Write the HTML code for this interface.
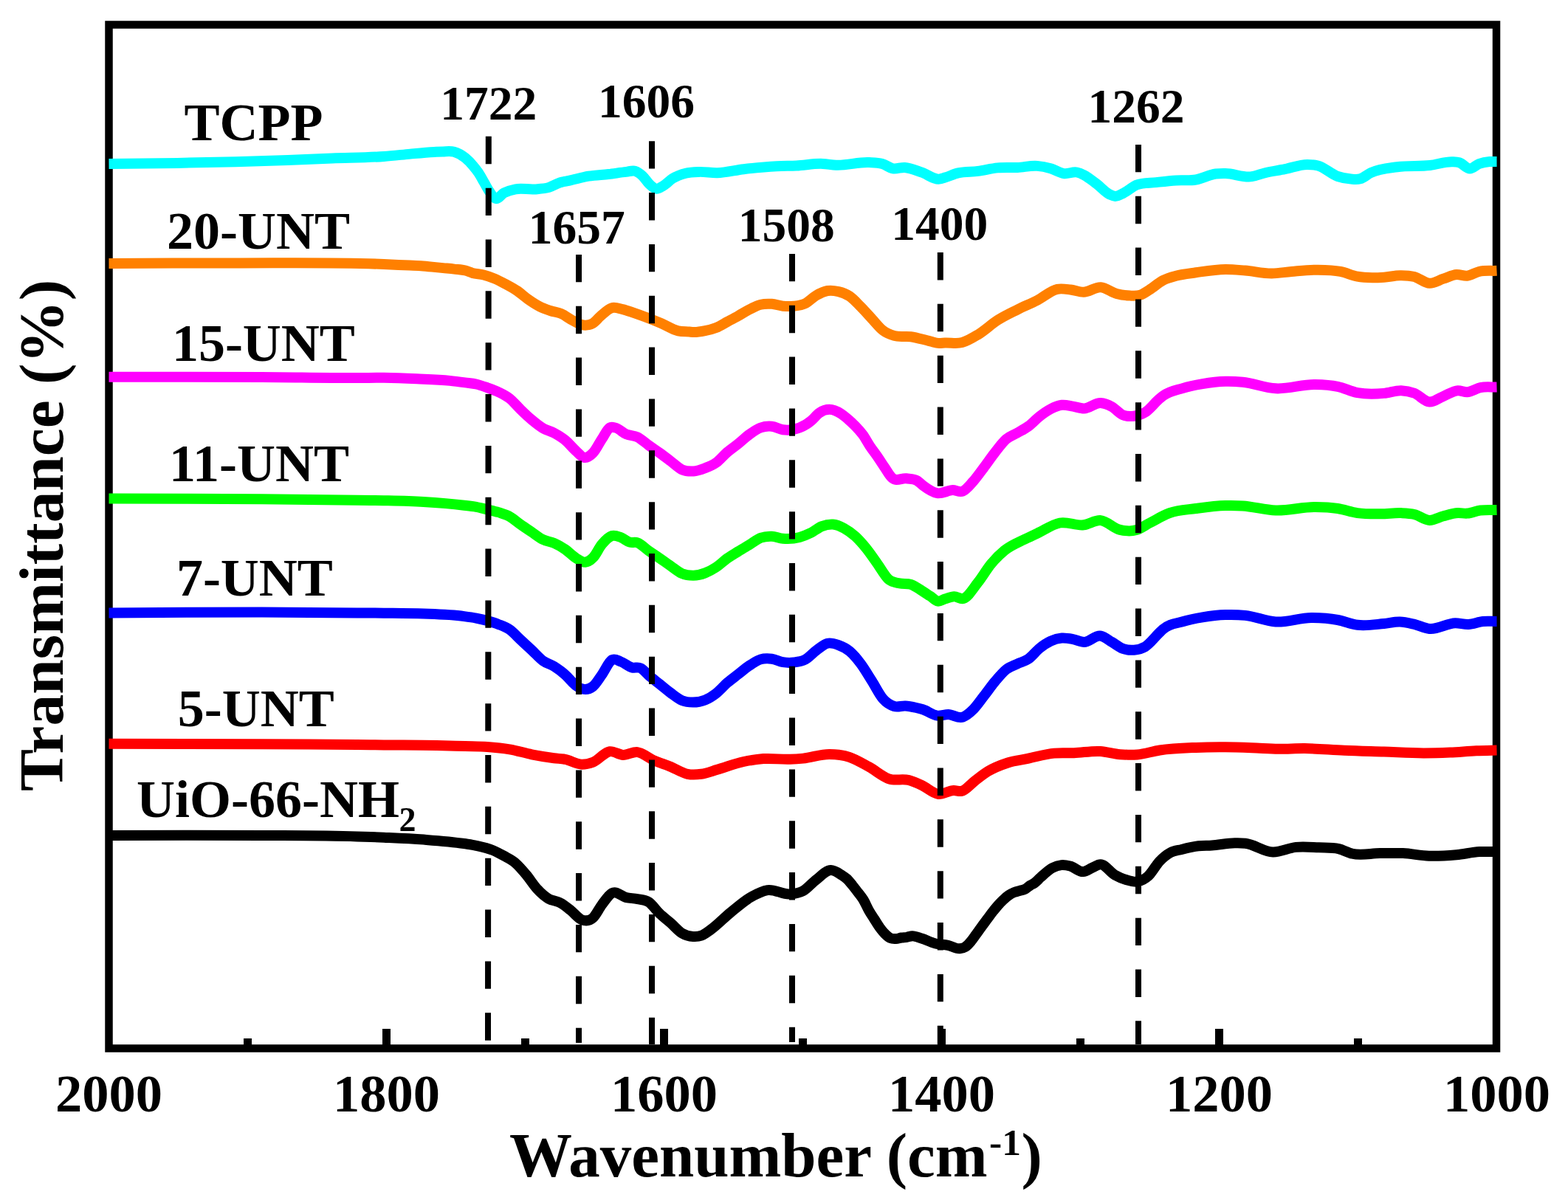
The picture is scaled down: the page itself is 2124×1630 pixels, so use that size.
<!DOCTYPE html>
<html><head><meta charset="utf-8"><style>
html,body{margin:0;padding:0;background:#fff;overflow:hidden;width:2124px;height:1630px;}
svg{display:block;}
text{font-family:"Liberation Serif","Times New Roman",serif;font-weight:bold;fill:#000;}
</style></head><body>
<svg width="2124" height="1630" viewBox="0 0 2124 1630">
<rect x="0" y="0" width="2124" height="1630" fill="#fff"/>
<!-- frame -->
<rect x="147.5" y="33.5" width="1879.5" height="1387" fill="none" stroke="#000" stroke-width="10.5"/>
<!-- ticks -->
<g fill="#000">
<rect x="518" y="1394" width="11" height="22"/>
<rect x="894" y="1394" width="11" height="22"/>
<rect x="1270" y="1394" width="11" height="22"/>
<rect x="1646" y="1394" width="11" height="22"/>
<rect x="330" y="1407" width="11" height="9"/>
<rect x="706" y="1407" width="11" height="9"/>
<rect x="1082" y="1407" width="11" height="9"/>
<rect x="1458" y="1407" width="11" height="9"/>
<rect x="1834" y="1407" width="11" height="9"/>
</g>
<path d="M147.5 221.9C178.3 221.6 209.2 221.4 240.0 220.9C266.3 220.5 292.6 219.9 318.9 219.2C342.6 218.6 366.3 217.9 390.0 217.0C410.0 216.3 430.0 215.3 450.0 214.5C473.3 213.6 496.7 213.7 520.0 212.0C531.9 211.1 543.9 209.7 555.8 208.6C566.5 207.6 577.3 206.5 588.0 205.9C592.0 205.7 596.0 205.4 600.0 205.4C605.0 205.3 610.1 204.4 615.1 205.8C620.1 207.2 625.1 209.8 630.1 213.8C633.6 216.7 637.2 220.2 640.7 224.4C643.2 227.3 645.7 230.4 648.2 234.2C650.7 238.0 653.2 242.7 655.7 247.0C658.2 251.3 660.8 256.4 663.3 260.0C665.8 263.6 668.3 267.6 670.8 268.8C674.8 270.8 678.9 263.3 682.9 261.3C688.1 258.8 693.2 257.3 698.4 256.3C706.9 254.6 715.5 257.0 724.0 256.4C730.6 255.9 737.1 255.9 743.7 253.9C748.8 252.4 753.8 248.8 758.9 247.3C762.8 246.1 766.6 245.7 770.5 244.9C779.4 243.0 788.4 240.2 797.3 238.7C806.3 237.2 815.2 237.0 824.2 236.0C832.3 235.1 840.3 233.7 848.4 232.9C852.4 232.5 856.5 230.5 860.5 231.8C863.9 232.9 867.3 235.4 870.7 238.7C873.7 241.5 876.6 246.6 879.6 249.4C882.6 252.3 885.6 255.2 888.6 255.7C891.9 256.3 895.2 253.6 898.5 251.7C902.7 249.3 906.8 244.5 911.0 241.9C917.0 238.2 922.9 236.2 928.9 234.7C934.9 233.2 940.8 233.1 946.8 232.9C955.1 232.6 963.3 234.4 971.6 234.2C983.5 233.9 995.5 230.6 1007.4 229.2C1022.3 227.5 1037.2 226.1 1052.1 225.3C1061.0 224.8 1070.0 224.9 1078.9 224.5C1090.8 223.9 1102.8 221.3 1114.7 221.9C1120.7 222.2 1126.6 223.5 1132.6 223.8C1147.5 224.6 1162.4 219.3 1177.3 220.1C1183.3 220.4 1189.2 220.3 1195.2 222.0C1200.0 223.4 1204.7 227.4 1209.5 228.3C1214.9 229.3 1220.2 226.6 1225.6 227.0C1233.4 227.5 1241.1 231.1 1248.9 233.7C1256.7 236.3 1264.4 243.4 1272.2 242.6C1274.8 242.3 1277.4 241.3 1280.0 240.5C1286.0 238.8 1291.9 235.8 1297.9 234.4C1306.8 232.2 1315.8 233.1 1324.7 231.9C1333.7 230.7 1342.6 228.2 1351.6 227.4C1360.5 226.6 1369.5 227.3 1378.4 226.9C1387.3 226.5 1396.3 224.1 1405.2 224.9C1411.2 225.4 1417.1 226.6 1423.1 228.3C1429.1 230.0 1435.0 234.2 1441.0 235.1C1447.0 236.0 1452.9 232.2 1458.9 233.5C1461.9 234.2 1464.9 235.4 1467.9 236.9C1473.9 239.8 1479.8 244.9 1485.8 249.4C1491.7 253.9 1497.7 261.0 1503.6 263.7C1506.0 264.8 1508.4 265.8 1510.8 265.9C1514.4 266.0 1517.9 263.6 1521.5 261.9C1527.5 259.1 1533.4 253.3 1539.4 250.7C1548.4 246.9 1557.3 248.2 1566.3 247.1C1575.2 246.1 1584.2 245.0 1593.1 244.4C1602.1 243.8 1611.0 245.0 1620.0 243.5C1628.9 242.0 1637.9 236.6 1646.8 235.5C1651.2 235.0 1655.6 235.1 1660.0 235.1C1671.9 235.2 1683.9 241.0 1695.8 239.2C1701.8 238.3 1707.7 235.6 1713.7 234.2C1722.6 232.0 1731.6 231.0 1740.5 229.2C1750.6 227.2 1760.8 222.8 1770.9 222.9C1775.7 222.9 1780.4 223.3 1785.2 224.5C1794.2 226.8 1803.1 236.0 1812.1 239.0C1818.1 241.0 1824.0 242.2 1830.0 242.6C1834.2 242.9 1838.3 243.5 1842.5 242.3C1847.3 241.0 1852.0 236.4 1856.8 234.2C1868.7 228.6 1880.7 227.9 1892.6 226.2C1907.5 224.0 1922.4 225.7 1937.3 224.0C1947.4 222.8 1957.6 218.7 1967.7 219.2C1970.7 219.3 1973.7 219.3 1976.7 220.2C1981.5 221.6 1986.2 228.5 1991.0 228.5C1995.2 228.5 1999.3 223.6 2003.5 222.0C2008.3 220.2 2013.0 219.4 2017.8 219.0C2021.0 218.7 2024.3 219.0 2027.5 219.0" fill="none" stroke="#00ffff" stroke-width="14" stroke-linejoin="round"/>
<path d="M147.5 356.9C204.7 356.7 261.8 356.3 319.0 356.4C386.0 356.5 453.0 355.2 520.0 358.0C526.7 358.3 533.3 358.6 540.0 358.9C545.0 359.1 550.1 359.3 555.1 359.5C560.1 359.7 565.1 359.9 570.1 360.2C575.1 360.6 580.2 361.1 585.2 361.6C590.2 362.1 595.3 362.6 600.3 363.1C605.3 363.6 610.3 364.0 615.3 364.6C620.3 365.2 625.4 365.3 630.4 366.6C633.6 367.4 636.8 369.0 640.0 369.9C645.0 371.3 650.1 371.2 655.1 372.5C660.1 373.8 665.1 375.5 670.1 377.6C675.1 379.7 680.2 382.5 685.2 385.2C690.2 387.9 695.3 390.5 700.3 393.9C705.3 397.3 710.3 402.0 715.3 405.5C720.3 409.0 725.4 412.4 730.4 415.0C735.4 417.6 740.5 419.3 745.5 421.0C750.5 422.7 755.5 422.9 760.5 425.1C765.5 427.3 770.6 431.5 775.6 434.1C780.6 436.7 785.7 440.2 790.7 440.6C794.7 440.9 798.7 440.6 802.7 438.3C806.2 436.2 809.8 431.5 813.3 428.5C818.3 424.2 823.3 418.9 828.3 417.3C833.3 415.7 838.4 418.0 843.4 419.1C848.4 420.2 853.5 422.2 858.5 423.9C863.5 425.6 868.5 427.4 873.5 429.3C881.0 432.1 888.6 435.1 896.1 438.3C903.6 441.5 911.2 446.7 918.7 448.4C923.7 449.5 928.8 449.2 933.8 449.6C935.9 449.8 937.9 450.1 940.0 450.1C945.0 450.2 950.1 449.2 955.1 448.2C960.1 447.2 965.1 446.0 970.1 444.0C975.1 442.0 980.2 438.7 985.2 436.0C990.2 433.3 995.3 430.6 1000.3 427.8C1005.3 425.0 1010.3 421.8 1015.3 419.3C1020.3 416.8 1025.4 413.9 1030.4 412.7C1035.4 411.4 1040.5 411.5 1045.5 411.8C1050.5 412.1 1055.5 414.2 1060.5 414.7C1065.5 415.2 1070.6 415.3 1075.6 414.7C1080.6 414.1 1085.7 413.6 1090.7 411.2C1095.7 408.8 1100.7 403.2 1105.7 400.3C1110.7 397.4 1115.8 394.9 1120.8 394.0C1125.8 393.1 1130.9 393.9 1135.9 395.1C1140.9 396.3 1145.9 398.0 1150.9 401.4C1155.9 404.8 1161.0 410.6 1166.0 415.7C1171.0 420.8 1176.1 426.6 1181.1 432.0C1186.1 437.3 1191.1 444.0 1196.1 447.8C1201.1 451.6 1206.2 453.4 1211.2 454.9C1218.7 457.2 1226.3 455.1 1233.8 456.2C1242.5 457.4 1251.3 460.5 1260.0 462.4C1264.1 463.3 1268.1 464.8 1272.2 465.0C1274.8 465.1 1277.4 464.6 1280.0 464.5C1287.8 464.1 1295.5 466.2 1303.3 464.1C1310.4 462.2 1317.6 457.7 1324.7 453.4C1333.7 448.0 1342.6 439.4 1351.6 433.7C1360.5 428.0 1369.5 423.9 1378.4 419.4C1387.3 414.9 1396.3 411.5 1405.2 406.9C1414.2 402.3 1423.1 393.6 1432.1 391.8C1438.1 390.6 1444.0 391.8 1450.0 392.5C1456.0 393.2 1461.9 395.9 1467.9 395.8C1475.6 395.7 1483.4 388.7 1491.1 389.3C1498.3 389.8 1505.4 396.0 1512.6 397.9C1518.6 399.5 1524.5 400.4 1530.5 400.6C1535.3 400.8 1540.0 401.3 1544.8 399.7C1549.0 398.3 1553.1 395.1 1557.3 392.5C1563.3 388.8 1569.2 383.1 1575.2 380.0C1581.2 376.9 1587.1 375.4 1593.1 373.8C1602.1 371.3 1611.0 370.6 1620.0 369.3C1633.3 367.4 1646.7 365.1 1660.0 365.0C1668.9 364.9 1677.9 365.9 1686.8 366.6C1698.7 367.6 1710.7 370.6 1722.6 370.5C1731.6 370.4 1740.5 368.7 1749.5 368.0C1761.4 367.0 1773.3 365.6 1785.2 365.7C1795.4 365.8 1805.5 365.9 1815.7 367.9C1823.4 369.4 1831.2 373.2 1838.9 374.7C1850.8 377.0 1862.8 376.4 1874.7 375.7C1881.9 375.3 1889.0 373.3 1896.2 373.2C1902.8 373.1 1909.3 373.3 1915.9 375.0C1922.7 376.8 1929.6 383.6 1936.4 383.8C1942.7 384.0 1948.9 379.7 1955.2 377.7C1961.2 375.8 1967.1 372.4 1973.1 372.0C1977.9 371.7 1982.6 374.3 1987.4 373.8C1992.8 373.2 1998.1 369.3 2003.5 368.0C2011.5 366.1 2019.5 367.2 2027.5 366.8" fill="none" stroke="#ff8000" stroke-width="14" stroke-linejoin="round"/>
<path d="M147.5 510.7C216.6 510.8 285.6 510.5 354.7 510.9C397.7 511.1 440.6 512.1 483.6 512.0C495.7 512.0 507.9 511.7 520.0 511.8C534.9 512.0 549.8 512.6 564.7 513.3C579.6 514.0 594.6 514.4 609.5 515.9C616.3 516.6 623.2 517.5 630.0 518.4C635.0 519.1 640.1 519.3 645.1 520.5C650.1 521.6 655.1 523.5 660.1 525.3C665.1 527.1 670.2 528.8 675.2 531.2C680.2 533.6 685.3 535.9 690.3 539.9C695.3 543.9 700.3 550.2 705.3 555.0C710.3 559.9 715.4 564.7 720.4 568.9C725.4 573.1 730.5 577.2 735.5 580.2C740.5 583.1 745.5 583.9 750.5 586.6C755.5 589.3 760.6 592.2 765.6 596.4C770.6 600.5 775.7 607.1 780.7 611.5C784.2 614.6 787.7 619.1 791.2 619.8C795.2 620.6 799.3 617.9 803.3 613.7C807.3 609.5 811.3 600.9 815.3 594.9C818.8 589.6 822.4 581.5 825.9 579.4C828.4 577.9 830.9 579.0 833.4 579.5C838.4 580.5 843.5 586.3 848.5 588.4C853.5 590.5 858.5 589.7 863.5 592.2C868.5 594.7 873.6 599.6 878.6 603.2C883.6 606.8 888.7 610.1 893.7 613.7C898.7 617.3 903.7 621.2 908.7 625.0C913.7 628.8 918.8 634.0 923.8 636.3C929.0 638.6 934.2 638.8 939.5 638.5C944.7 638.1 949.9 636.2 955.1 634.2C960.1 632.3 965.1 630.5 970.1 626.9C975.1 623.3 980.2 616.9 985.2 612.6C990.2 608.3 995.3 605.0 1000.3 601.0C1005.3 597.0 1010.3 592.1 1015.3 588.5C1020.3 584.9 1025.4 581.3 1030.4 579.5C1035.4 577.7 1040.5 577.2 1045.5 577.7C1050.5 578.2 1055.5 581.5 1060.5 582.2C1068.0 583.2 1075.6 582.5 1083.1 579.5C1088.4 577.4 1093.8 574.3 1099.1 569.8C1102.7 566.9 1106.2 561.9 1109.8 559.4C1114.4 556.2 1119.0 554.8 1123.6 554.8C1128.8 554.8 1134.1 557.3 1139.3 560.6C1142.6 562.6 1145.8 565.5 1149.1 568.3C1152.4 571.1 1155.6 574.2 1158.9 577.6C1162.2 581.0 1165.4 584.4 1168.7 588.9C1172.0 593.4 1175.2 599.7 1178.5 604.6C1181.8 609.5 1185.0 613.6 1188.3 618.3C1191.6 623.0 1194.8 628.2 1198.1 633.0C1201.4 637.8 1204.6 643.8 1207.9 647.0C1214.5 653.4 1221.0 647.4 1227.6 648.3C1232.5 649.0 1237.4 648.2 1242.3 651.2C1244.9 652.8 1247.4 655.7 1250.0 657.6C1256.5 662.5 1263.1 667.0 1269.6 668.2C1276.6 669.5 1283.7 664.2 1290.7 664.1C1295.2 664.1 1299.7 667.5 1304.2 665.6C1308.7 663.7 1313.3 657.8 1317.8 652.8C1322.8 647.2 1327.9 639.9 1332.9 633.2C1337.9 626.6 1342.9 619.2 1347.9 612.9C1352.9 606.5 1358.0 599.5 1363.0 595.1C1368.0 590.7 1373.1 589.4 1378.1 586.5C1383.1 583.6 1388.1 581.2 1393.1 577.5C1398.1 573.8 1403.2 568.1 1408.2 564.2C1413.2 560.3 1418.3 556.7 1423.3 554.1C1428.3 551.5 1433.3 549.4 1438.3 548.8C1443.3 548.2 1448.4 549.8 1453.4 550.6C1458.4 551.4 1463.5 553.5 1468.5 553.4C1476.0 553.2 1483.6 545.4 1491.1 546.0C1496.1 546.4 1501.1 548.4 1506.1 551.1C1511.1 553.8 1516.2 560.3 1521.2 562.4C1526.2 564.5 1531.2 564.3 1536.2 563.7C1541.2 563.1 1546.3 561.7 1551.3 558.6C1557.5 554.8 1563.8 546.1 1570.0 540.8C1571.7 539.3 1573.5 537.8 1575.2 536.5C1584.2 529.7 1593.1 528.8 1602.1 526.1C1611.0 523.4 1620.0 521.7 1628.9 520.2C1639.3 518.4 1649.6 517.1 1660.0 516.8C1667.8 516.6 1675.5 517.0 1683.3 517.7C1698.2 519.1 1713.1 525.4 1728.0 526.3C1745.9 527.4 1763.8 520.6 1781.7 521.0C1791.8 521.2 1802.0 521.7 1812.1 523.8C1821.0 525.7 1830.0 530.5 1838.9 532.2C1850.8 534.4 1862.8 534.0 1874.7 532.9C1882.5 532.2 1890.2 528.9 1898.0 529.2C1904.0 529.5 1909.9 530.6 1915.9 532.8C1922.7 535.4 1929.6 544.2 1936.4 544.6C1942.7 545.0 1948.9 539.4 1955.2 536.9C1961.8 534.3 1968.3 529.6 1974.9 529.2C1979.1 529.0 1983.2 531.4 1987.4 531.2C1993.4 530.9 1999.3 526.3 2005.3 525.1C2012.7 523.6 2020.1 524.7 2027.5 524.5" fill="none" stroke="#ff00ff" stroke-width="14" stroke-linejoin="round"/>
<path d="M147.5 675.4C216.6 675.7 285.6 675.7 354.7 676.3C397.7 676.7 440.6 677.3 483.6 677.8C495.7 677.9 507.9 678.0 520.0 678.2C537.9 678.6 555.8 678.9 573.7 680.0C592.0 681.1 610.4 682.5 628.7 684.7C634.2 685.3 639.6 685.8 645.1 686.8C650.1 687.7 655.1 689.2 660.1 690.4C665.1 691.6 670.2 692.6 675.2 694.2C680.2 695.8 685.3 697.1 690.3 699.9C695.3 702.7 700.3 707.3 705.3 710.8C710.3 714.3 715.4 717.6 720.4 721.0C725.4 724.4 730.5 728.6 735.5 731.1C740.5 733.6 745.5 733.7 750.5 735.9C755.5 738.1 760.6 741.0 765.6 744.4C770.6 747.8 775.7 753.4 780.7 756.4C784.7 758.8 788.7 762.1 792.7 761.7C796.2 761.4 799.8 759.3 803.3 755.7C807.3 751.7 811.3 742.4 815.3 737.6C819.8 732.2 824.4 727.4 828.9 726.0C832.9 724.8 836.9 726.7 840.9 728.1C844.9 729.5 849.0 733.4 853.0 734.6C856.5 735.6 860.0 734.1 863.5 735.3C868.5 737.0 873.6 742.7 878.6 746.2C883.6 749.7 888.7 752.9 893.7 756.4C898.7 759.9 903.7 763.6 908.7 767.0C913.7 770.5 918.8 775.0 923.8 777.1C929.0 779.3 934.2 779.9 939.5 779.8C944.7 779.7 949.9 778.4 955.1 776.4C960.1 774.5 965.1 771.8 970.1 768.5C975.1 765.2 980.2 760.1 985.2 756.5C990.2 752.9 995.3 750.1 1000.3 747.0C1005.3 743.9 1010.3 741.0 1015.3 738.0C1020.3 735.0 1025.4 730.7 1030.4 728.8C1035.4 726.9 1040.5 726.5 1045.5 726.7C1050.5 726.9 1055.5 729.3 1060.5 729.7C1068.0 730.4 1075.6 729.9 1083.1 727.9C1088.1 726.6 1093.2 724.6 1098.2 722.1C1103.2 719.6 1108.3 715.0 1113.3 713.1C1118.3 711.2 1123.3 710.1 1128.3 710.5C1133.3 710.9 1138.4 713.1 1143.4 715.8C1148.4 718.5 1153.5 722.1 1158.5 726.7C1163.5 731.3 1168.5 737.0 1173.5 743.2C1178.5 749.4 1183.6 757.0 1188.6 764.0C1193.6 771.0 1198.7 780.7 1203.7 785.1C1208.7 789.5 1213.7 789.3 1218.7 790.4C1223.7 791.5 1228.8 790.2 1233.8 791.9C1238.8 793.6 1243.9 797.4 1248.9 800.5C1252.6 802.8 1256.3 805.3 1260.0 807.7C1263.5 810.0 1266.9 814.1 1270.4 814.6C1273.6 815.1 1276.8 812.4 1280.0 811.5C1284.2 810.3 1288.3 808.4 1292.5 808.3C1296.7 808.2 1300.8 812.2 1305.0 811.0C1311.6 809.0 1318.1 797.5 1324.7 789.2C1330.7 781.7 1336.6 771.2 1342.6 764.0C1348.6 756.8 1354.5 750.9 1360.5 746.0C1369.5 738.6 1378.4 735.5 1387.4 731.0C1393.3 728.0 1399.3 725.4 1405.2 722.6C1415.4 717.8 1425.5 710.5 1435.7 708.5C1446.4 706.4 1457.2 712.6 1467.9 711.3C1475.6 710.4 1483.4 704.3 1491.1 705.1C1499.5 705.9 1507.8 715.5 1516.2 717.6C1523.9 719.5 1531.7 720.3 1539.4 718.1C1545.4 716.4 1551.3 711.7 1557.3 708.6C1566.3 704.0 1575.2 698.4 1584.2 695.2C1596.1 690.9 1608.1 690.7 1620.0 689.0C1633.3 687.2 1646.7 685.3 1660.0 685.0C1667.8 684.8 1675.5 684.9 1683.3 685.4C1698.2 686.3 1713.1 691.0 1728.0 691.5C1745.9 692.2 1763.8 686.8 1781.7 687.0C1791.8 687.1 1802.0 687.5 1812.1 689.0C1821.0 690.4 1830.0 693.8 1838.9 695.1C1849.6 696.6 1860.4 696.4 1871.1 696.3C1880.1 696.2 1889.0 694.7 1898.0 695.1C1904.0 695.4 1909.9 695.6 1915.9 697.0C1922.7 698.6 1929.6 704.7 1936.4 704.9C1942.7 705.1 1948.9 700.9 1955.2 699.3C1961.8 697.6 1968.3 695.5 1974.9 695.1C1979.1 694.9 1983.2 695.9 1987.4 695.6C1993.4 695.2 1999.3 692.3 2005.3 691.5C2012.7 690.5 2020.1 691.1 2027.5 690.9" fill="none" stroke="#00ff00" stroke-width="14" stroke-linejoin="round"/>
<path d="M147.5 830.4C216.6 830.1 285.6 829.4 354.7 829.6C397.7 829.7 440.6 830.1 483.6 830.4C495.7 830.5 507.9 830.6 520.0 830.7C537.9 830.9 555.8 830.9 573.7 831.6C592.0 832.3 610.4 832.7 628.7 835.1C634.2 835.8 639.6 836.5 645.1 837.6C650.1 838.6 655.1 839.7 660.1 841.1C665.1 842.5 670.2 843.9 675.2 845.9C680.2 847.9 685.3 849.6 690.3 853.1C695.3 856.6 700.3 862.4 705.3 867.0C710.3 871.7 715.4 876.3 720.4 881.0C725.4 885.7 730.5 891.6 735.5 895.3C740.5 898.9 745.5 899.8 750.5 902.9C755.5 906.1 760.6 909.8 765.6 914.2C770.6 918.6 775.7 925.8 780.7 929.2C783.7 931.3 786.7 933.1 789.7 933.7C794.2 934.6 798.8 933.7 803.3 930.0C807.3 926.7 811.3 919.8 815.3 914.2C819.8 907.9 824.4 896.8 828.9 894.1C832.9 891.8 836.9 895.1 840.9 896.5C845.9 898.2 851.0 903.0 856.0 904.4C860.0 905.5 864.0 903.3 868.0 905.4C871.5 907.2 875.1 911.9 878.6 914.9C883.6 919.2 888.7 923.0 893.7 927.0C898.7 931.0 903.7 935.3 908.7 939.0C913.7 942.7 918.8 947.0 923.8 949.1C928.8 951.1 933.7 951.5 938.6 951.5C944.1 951.5 949.6 950.6 955.1 948.4C960.1 946.4 965.1 943.3 970.1 939.4C975.1 935.5 980.2 929.5 985.2 925.1C990.2 920.8 995.3 917.2 1000.3 913.3C1005.3 909.4 1010.3 905.0 1015.3 901.7C1020.3 898.4 1025.4 894.9 1030.4 893.4C1035.4 891.9 1040.5 892.1 1045.5 892.7C1050.5 893.3 1055.5 896.4 1060.5 897.2C1065.5 898.0 1070.6 898.1 1075.6 897.5C1080.6 896.9 1085.7 896.4 1090.7 893.7C1095.7 891.0 1100.7 885.1 1105.7 881.4C1110.7 877.7 1115.8 872.9 1120.8 871.7C1125.8 870.5 1130.9 872.3 1135.9 874.1C1140.9 875.9 1145.9 878.2 1150.9 882.4C1155.9 886.6 1161.0 892.7 1166.0 899.4C1171.0 906.1 1176.1 914.9 1181.1 922.8C1186.1 930.7 1191.1 941.2 1196.1 946.9C1201.1 952.6 1206.2 955.4 1211.2 957.0C1216.2 958.6 1221.3 956.2 1226.3 956.5C1231.3 956.8 1236.3 957.9 1241.3 959.0C1244.2 959.7 1247.1 960.4 1250.0 961.3C1256.5 963.3 1263.1 968.8 1269.6 969.6C1274.6 970.2 1279.7 968.0 1284.7 968.1C1291.2 968.2 1297.7 973.9 1304.2 971.6C1308.7 970.0 1313.3 966.2 1317.8 961.8C1322.8 956.9 1327.9 949.3 1332.9 942.9C1337.9 936.5 1342.9 929.3 1347.9 923.3C1352.9 917.3 1358.0 911.1 1363.0 907.1C1368.0 903.1 1373.1 901.9 1378.1 899.5C1383.1 897.1 1388.1 896.3 1393.1 892.8C1398.1 889.3 1403.2 882.4 1408.2 878.4C1413.2 874.4 1418.3 871.0 1423.3 868.7C1428.3 866.4 1433.3 865.0 1438.3 864.6C1443.3 864.2 1448.4 865.2 1453.4 866.1C1458.4 867.0 1463.5 870.0 1468.5 870.0C1476.0 870.0 1483.6 860.2 1491.1 861.6C1496.1 862.5 1501.1 867.0 1506.1 869.9C1511.1 872.8 1516.2 877.1 1521.2 878.9C1526.2 880.7 1531.2 881.1 1536.2 880.7C1541.2 880.3 1546.3 879.2 1551.3 876.2C1557.5 872.4 1563.8 863.9 1570.0 857.8C1571.7 856.1 1573.5 854.2 1575.2 852.7C1584.2 844.8 1593.1 845.0 1602.1 842.3C1611.0 839.6 1620.0 837.9 1628.9 836.4C1639.3 834.7 1649.6 833.4 1660.0 833.1C1668.9 832.8 1677.9 833.0 1686.8 833.9C1700.5 835.3 1714.3 841.7 1728.0 842.5C1744.1 843.5 1760.2 837.0 1776.3 837.0C1788.2 837.0 1800.2 837.8 1812.1 840.0C1821.0 841.6 1830.0 845.7 1838.9 846.8C1850.8 848.3 1862.8 846.1 1874.7 845.0C1881.9 844.3 1889.0 842.3 1896.2 842.5C1902.8 842.7 1909.3 844.4 1915.9 845.9C1922.7 847.5 1929.6 851.3 1936.4 852.0C1948.0 853.2 1959.7 844.5 1971.3 844.3C1977.3 844.2 1983.2 846.2 1989.2 845.9C1995.8 845.6 2002.3 842.6 2008.9 842.0C2015.1 841.4 2021.3 842.0 2027.5 842.0" fill="none" stroke="#0000ff" stroke-width="14" stroke-linejoin="round"/>
<path d="M147.5 1007.8C216.6 1007.9 285.6 1007.9 354.7 1008.2C397.7 1008.4 440.6 1008.8 483.6 1009.1C495.7 1009.2 507.9 1009.3 520.0 1009.4C543.9 1009.6 567.7 1009.4 591.6 1009.9C604.4 1010.2 617.2 1010.7 630.0 1011.1C640.0 1011.4 650.1 1011.3 660.1 1012.0C670.2 1012.7 680.2 1013.6 690.3 1015.3C700.3 1017.0 710.4 1020.3 720.4 1022.3C730.4 1024.3 740.5 1025.9 750.5 1027.2C755.5 1027.9 760.6 1028.0 765.6 1028.9C773.1 1030.3 780.7 1035.7 788.2 1035.7C793.2 1035.7 798.3 1034.6 803.3 1032.7C810.8 1029.9 818.4 1019.2 825.9 1018.2C831.9 1017.4 837.9 1022.6 843.9 1022.9C850.4 1023.2 857.0 1018.3 863.5 1019.1C871.0 1020.1 878.6 1027.1 886.1 1030.4C893.6 1033.7 901.2 1035.9 908.7 1039.0C916.2 1042.1 923.8 1047.3 931.3 1048.8C937.5 1050.0 943.8 1049.6 950.0 1048.8C957.2 1047.9 964.4 1044.9 971.6 1042.8C983.5 1039.4 995.5 1034.5 1007.4 1032.0C1016.3 1030.1 1025.3 1028.8 1034.2 1028.1C1046.1 1027.2 1058.1 1029.3 1070.0 1028.8C1076.0 1028.6 1081.9 1028.2 1087.9 1027.6C1099.8 1026.4 1111.8 1021.8 1123.7 1022.0C1132.6 1022.1 1141.6 1022.9 1150.5 1025.8C1159.4 1028.7 1168.4 1034.3 1177.3 1039.2C1186.3 1044.1 1195.2 1052.3 1204.2 1055.3C1213.1 1058.3 1222.1 1054.7 1231.0 1057.1C1237.0 1058.7 1242.9 1061.4 1248.9 1064.2C1256.1 1067.5 1263.2 1074.7 1270.4 1075.8C1277.6 1076.9 1284.7 1071.1 1291.9 1071.0C1295.5 1070.9 1299.0 1072.7 1302.6 1071.9C1308.6 1070.5 1314.5 1062.6 1320.5 1058.1C1326.5 1053.6 1332.4 1048.7 1338.4 1045.1C1347.3 1039.7 1356.3 1036.4 1365.2 1033.5C1374.2 1030.6 1383.1 1029.8 1392.1 1027.9C1404.0 1025.4 1416.0 1021.7 1427.9 1020.6C1436.8 1019.7 1445.8 1020.5 1454.7 1020.2C1466.6 1019.8 1478.6 1017.2 1490.5 1018.0C1499.4 1018.6 1508.4 1021.5 1517.3 1022.2C1525.1 1022.8 1532.8 1023.1 1540.6 1022.5C1550.7 1021.7 1560.9 1018.0 1571.0 1016.5C1587.3 1014.1 1603.7 1013.6 1620.0 1012.9C1633.3 1012.3 1646.7 1012.2 1660.0 1012.3C1671.9 1012.4 1683.9 1012.8 1695.8 1013.2C1707.7 1013.6 1719.7 1014.6 1731.6 1014.8C1743.5 1014.9 1755.5 1014.0 1767.4 1014.1C1785.3 1014.3 1803.1 1016.1 1821.0 1016.8C1838.9 1017.6 1856.8 1018.0 1874.7 1018.6C1892.6 1019.2 1910.5 1020.4 1928.4 1020.4C1940.3 1020.4 1952.3 1020.0 1964.2 1019.5C1976.1 1019.0 1988.0 1017.8 1999.9 1017.3C2009.1 1016.9 2018.3 1016.8 2027.5 1016.6" fill="none" stroke="#ff0000" stroke-width="14" stroke-linejoin="round"/>
<path d="M147.5 1131.9C216.6 1131.9 285.6 1131.4 354.7 1131.9C397.7 1132.2 440.6 1132.1 483.6 1133.4C495.7 1133.8 507.9 1134.2 520.0 1134.7C537.9 1135.5 555.8 1136.2 573.7 1137.6C592.0 1139.0 610.4 1140.3 628.7 1143.0C634.2 1143.9 639.6 1144.6 645.1 1145.8C652.6 1147.4 660.2 1149.0 667.7 1152.1C672.7 1154.2 677.7 1156.9 682.7 1159.7C687.7 1162.5 692.8 1164.7 697.8 1169.0C702.8 1173.3 707.9 1179.3 712.9 1185.3C717.9 1191.3 722.9 1199.4 727.9 1204.8C732.9 1210.2 738.0 1214.7 743.0 1217.7C748.0 1220.7 753.1 1220.3 758.1 1222.9C763.1 1225.5 768.1 1229.6 773.1 1233.5C778.1 1237.4 783.2 1244.6 788.2 1246.3C793.2 1248.0 798.3 1248.1 803.3 1243.6C807.3 1240.0 811.3 1231.2 815.3 1225.9C819.8 1219.9 824.4 1212.6 828.9 1210.1C835.4 1206.4 842.0 1214.7 848.5 1216.1C853.5 1217.1 858.5 1217.1 863.5 1218.1C868.5 1219.1 873.6 1218.9 878.6 1222.2C883.6 1225.5 888.7 1233.2 893.7 1238.0C898.7 1242.7 903.7 1246.4 908.7 1250.8C913.7 1255.2 918.8 1261.4 923.8 1264.4C928.8 1267.4 933.9 1268.6 938.9 1268.9C942.6 1269.1 946.3 1269.0 950.0 1267.7C954.2 1266.2 958.4 1262.8 962.6 1259.8C971.6 1253.5 980.5 1243.8 989.5 1236.5C998.4 1229.2 1007.4 1221.2 1016.3 1216.0C1024.1 1211.5 1031.8 1207.4 1039.6 1206.1C1049.7 1204.4 1059.9 1212.4 1070.0 1211.5C1076.0 1211.0 1081.9 1210.5 1087.9 1207.2C1093.9 1203.9 1099.8 1196.3 1105.8 1191.8C1112.3 1186.8 1118.9 1179.2 1125.4 1179.1C1130.3 1179.0 1135.1 1182.5 1140.0 1185.6C1142.5 1187.2 1144.9 1188.7 1147.4 1191.0C1149.8 1193.3 1152.3 1196.5 1154.7 1199.5C1157.2 1202.5 1159.6 1205.8 1162.1 1209.0C1164.6 1212.2 1167.0 1214.9 1169.5 1219.0C1171.9 1223.0 1174.4 1229.0 1176.8 1233.3C1179.3 1237.7 1181.7 1241.2 1184.2 1245.1C1186.6 1248.9 1189.1 1253.1 1191.5 1256.5C1194.0 1259.9 1196.4 1263.0 1198.9 1265.4C1201.4 1267.9 1203.8 1270.1 1206.3 1271.2C1208.7 1272.3 1211.2 1272.1 1213.6 1272.0C1216.1 1271.9 1218.5 1270.9 1221.0 1270.5C1223.5 1270.1 1225.9 1270.2 1228.4 1269.8C1230.9 1269.4 1233.3 1268.3 1235.8 1268.2C1240.0 1268.1 1244.2 1270.2 1248.4 1271.5C1254.4 1273.3 1260.3 1276.7 1266.3 1278.2C1272.3 1279.8 1278.2 1279.5 1284.2 1280.8C1289.5 1282.0 1294.7 1285.9 1300.0 1285.3C1302.5 1285.0 1304.9 1284.7 1307.4 1283.1C1309.8 1281.6 1312.3 1278.9 1314.7 1276.1C1317.2 1273.3 1319.6 1269.6 1322.1 1266.2C1324.6 1262.8 1327.0 1259.2 1329.5 1255.8C1331.9 1252.4 1334.4 1249.2 1336.8 1245.9C1339.3 1242.6 1341.7 1239.2 1344.2 1236.0C1346.6 1232.9 1349.1 1229.9 1351.5 1227.1C1354.0 1224.3 1356.4 1221.7 1358.9 1219.4C1361.4 1217.1 1363.8 1214.8 1366.3 1213.1C1368.7 1211.4 1371.2 1210.1 1373.6 1209.1C1376.1 1208.1 1378.5 1207.7 1381.0 1207.0C1383.5 1206.3 1385.9 1206.1 1388.4 1204.8C1390.8 1203.6 1393.3 1201.0 1395.7 1199.5C1397.4 1198.4 1399.2 1197.9 1400.9 1196.7C1403.8 1194.7 1406.8 1191.2 1409.7 1188.6C1415.0 1183.9 1420.4 1178.7 1425.7 1175.9C1429.7 1173.8 1433.7 1172.5 1437.7 1172.1C1441.7 1171.7 1445.6 1172.5 1449.6 1173.5C1455.5 1174.9 1461.3 1181.5 1467.2 1181.1C1471.5 1180.8 1475.7 1177.3 1480.0 1175.5C1483.5 1174.0 1487.1 1171.2 1490.6 1171.2C1497.2 1171.1 1503.7 1181.9 1510.3 1185.6C1515.3 1188.4 1520.3 1190.5 1525.3 1192.0C1530.3 1193.5 1535.4 1195.5 1540.4 1194.6C1545.4 1193.7 1550.5 1191.4 1555.5 1186.8C1560.5 1182.2 1565.5 1172.5 1570.5 1167.2C1575.5 1161.9 1580.6 1157.8 1585.6 1155.1C1590.6 1152.4 1595.7 1152.2 1600.7 1150.9C1608.2 1149.0 1615.8 1147.1 1623.3 1146.2C1629.3 1145.5 1635.4 1145.8 1641.4 1145.4C1651.8 1144.7 1662.1 1142.4 1672.5 1142.3C1677.3 1142.2 1682.2 1142.2 1687.0 1142.7C1699.4 1144.0 1711.9 1154.2 1724.3 1154.5C1734.7 1154.8 1745.0 1148.9 1755.4 1147.9C1765.8 1146.9 1776.1 1147.9 1786.5 1148.3C1795.5 1148.7 1804.4 1147.9 1813.4 1150.1C1819.6 1151.6 1825.8 1155.3 1832.0 1156.8C1844.4 1159.7 1856.9 1156.2 1869.3 1156.1C1879.7 1156.0 1890.0 1155.6 1900.4 1156.1C1912.1 1156.7 1923.9 1159.3 1935.6 1159.7C1948.0 1160.1 1960.5 1159.3 1972.9 1158.2C1983.3 1157.3 1993.6 1154.7 2004.0 1154.1C2011.8 1153.7 2019.7 1154.1 2027.5 1154.1" fill="none" stroke="#000000" stroke-width="14" stroke-linejoin="round"/>
<!-- dashed lines -->
<g stroke="#000" stroke-width="8" stroke-dasharray="37.4 32.45" fill="none">
<line x1="661.8" y1="184.8" x2="661" y2="1410"/>
<line x1="883" y1="191.2" x2="883" y2="1415"/>
<line x1="784" y1="344.9" x2="784" y2="1413"/>
<line x1="1073" y1="343.9" x2="1073" y2="1412"/>
<line x1="1273.8" y1="342" x2="1273.8" y2="1415"/>
<line x1="1542" y1="195.9" x2="1542" y2="1415"/>
</g>
<!-- labels -->
<g font-size="72">
<text x="249.6" y="189.5">TCPP</text>
<text x="226.1" y="337">20-UNT</text>
<text x="232.9" y="488.8">15-UNT</text>
<text x="229" y="651.8">11-UNT</text>
<text x="238.9" y="807">7-UNT</text>
<text x="240.8" y="983.5">5-UNT</text>
<text x="185" y="1107.3">UiO-66-NH<tspan font-size="46" x="540.5" y="1125.7">2</tspan></text>
</g>
<g font-size="65.5">
<text x="596.3" y="161.7">1722</text>
<text x="810" y="159.4">1606</text>
<text x="1473.6" y="165.7">1262</text>
<text x="715.8" y="329.9">1657</text>
<text x="999.7" y="327">1508</text>
<text x="1207.3" y="325">1400</text>
</g>
<g font-size="72.5" text-anchor="middle">
<text x="147.5" y="1506.3">2000</text>
<text x="523.5" y="1506.3">1800</text>
<text x="899.5" y="1506.3">1600</text>
<text x="1275.5" y="1506.3">1400</text>
<text x="1651.5" y="1506.3">1200</text>
<text x="2027.5" y="1506.3">1000</text>
</g>
<text font-size="85" x="689.9" y="1593.5">Wavenumber (cm<tspan font-size="51.5" x="1340" y="1565">-1</tspan><tspan x="1383.5" y="1593.5">)</tspan></text>
<text font-size="85.4" transform="translate(85,1072) rotate(-90)" x="0" y="0">Transmittance (%)</text>
</svg>
</body></html>
